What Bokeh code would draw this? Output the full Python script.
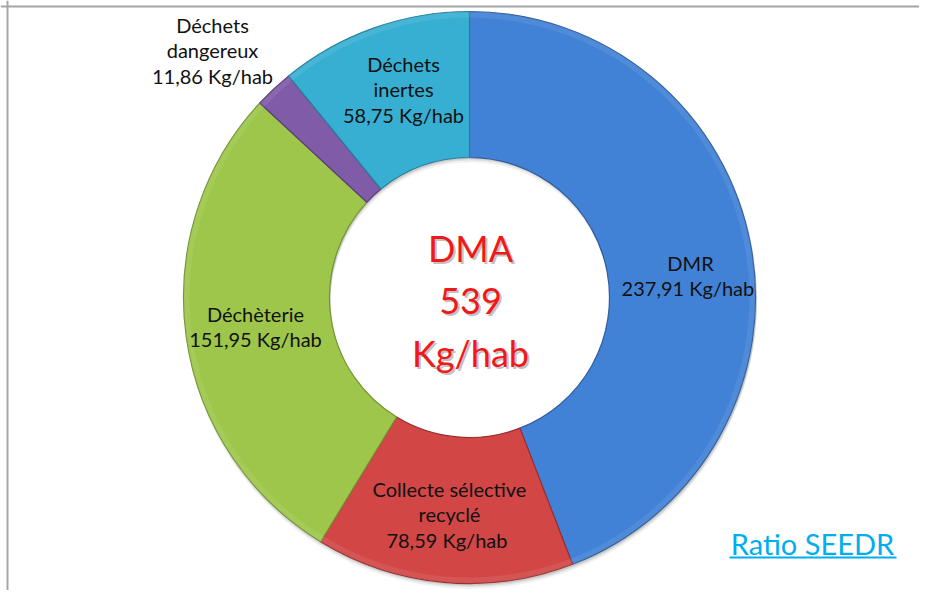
import numpy as np
from bokeh.plotting import figure
from bokeh.models import ColumnDataSource, Span
from bokeh.core.properties import value
from bokeh.embed import file_html
from bokeh.resources import INLINE

# ---- data ----
categories = ["DMR", "Collecte sélective recyclé", "Déchèterie", "Déchets dangereux", "Déchets inertes"]
values = [237.91, 78.59, 151.95, 11.86, 58.75]
name_lines = [["DMR"], ["Collecte sélective", "recyclé"], ["Déchèterie"], ["Déchets", "dangereux"], ["Déchets", "inertes"]]
value_labels = ["237,91  Kg/hab", "78,59  Kg/hab", "151,95 Kg/hab", "11,86 Kg/hab", "58,75 Kg/hab"]
total_lines = ["DMA", "539", "Kg/hab"]
source_label = "Ratio SEEDR"

# ---- style / layout ----
colors = ["#4282D6", "#D24646", "#9DC64A", "#7F5BA8", "#37AFD3"]
edges = ["#2F5E9E", "#9A2F2F", "#739433", "#5B3F7C", "#25809C"]
W, H = 919, 590
def sx(x): return x
def sy(y): return H - y
CX, CY = sx(469), sy(297)
R_OUT, R_IN = 286, 140
# label line anchors (screen px) per slice
label_x = [690, 449, 255, 212, 403]
label_y0 = [262, 488, 313, 24, 63]
LINE_STEP = 25.5

p = figure(width=W, height=H, x_range=(0, W), y_range=(0, H),
           output_backend="svg", toolbar_location=None, min_border=0)
p.axis.visible = False
p.grid.visible = False
p.outline_line_color = None
p.background_fill_color = "white"

# frame lines (top & left)
p.add_layout(Span(location=sx(7), dimension="height", line_color="#A6A6A6", line_width=2))
p.add_layout(Span(location=sy(6), dimension="width", line_color="#A6A6A6", line_width=2))

vals = np.array(values)
frac = vals / vals.sum()
cum = np.concatenate([[0], np.cumsum(frac)])
start = np.pi / 2 - 2 * np.pi * cum[:-1]
end = np.pi / 2 - 2 * np.pi * cum[1:]

src = ColumnDataSource(dict(start=start, end=end, color=colors, edge=edges, cat=categories, val=values))

# soft shadow
for k, a in [(5, 0.05), (3, 0.08), (1.5, 0.10)]:
    p.annular_wedge(x=CX + 1, y=CY - k, inner_radius=R_IN, outer_radius=R_OUT + 0.5,
                    start_angle="start", end_angle="end", direction="clock",
                    fill_color="black", fill_alpha=a, line_color=None, source=src)

p.annular_wedge(x=CX, y=CY, inner_radius=R_IN, outer_radius=R_OUT,
                start_angle="start", end_angle="end", direction="clock",
                fill_color="color", line_color="edge", line_width=1.2, source=src)
# bevel highlight
p.annular_wedge(x=CX, y=CY, inner_radius=R_OUT - 6, outer_radius=R_OUT,
                start_angle="start", end_angle="end", direction="clock",
                fill_color="white", fill_alpha=0.08, line_color=None, source=src)

# slice labels
lx, ly, lt = [], [], []
for i in range(len(values)):
    lines = name_lines[i] + [value_labels[i]]
    for j, t in enumerate(lines):
        lx.append(sx(label_x[i]))
        ly.append(sy(label_y0[i] + j * LINE_STEP))
        lt.append(t)
p.text(x=lx, y=ly, text=lt, text_align="center", text_baseline="middle",
       text_font=value("Lato"), text_font_size="20px", text_color="#111111")

# centre total
tx = [sx(470)] * 3
ty = [sy(247), sy(300), sy(352)]
p.text(x=[x + 2 for x in tx], y=[y - 2 for y in ty], text=total_lines, text_align="center",
       text_baseline="middle", text_font=value("Lato"), text_font_size="36px",
       text_color="#999999", text_alpha=0.6)
p.text(x=tx, y=ty, text=total_lines, text_align="center", text_baseline="middle",
       text_font=value("Lato"), text_font_size="36px", text_color="#F01818")

# source label with underline
p.text(x=[sx(812)], y=[sy(543)], text=[source_label], text_align="center", text_baseline="middle",
       text_font=value("Lato"), text_font_size="29px", text_color="#00AEEF")
p.segment(x0=[sx(729)], y0=[sy(557)], x1=[sx(896)], y1=[sy(557)], line_color="#00AEEF", line_width=2)

open("out.html", "w").write(file_html(p, INLINE))
